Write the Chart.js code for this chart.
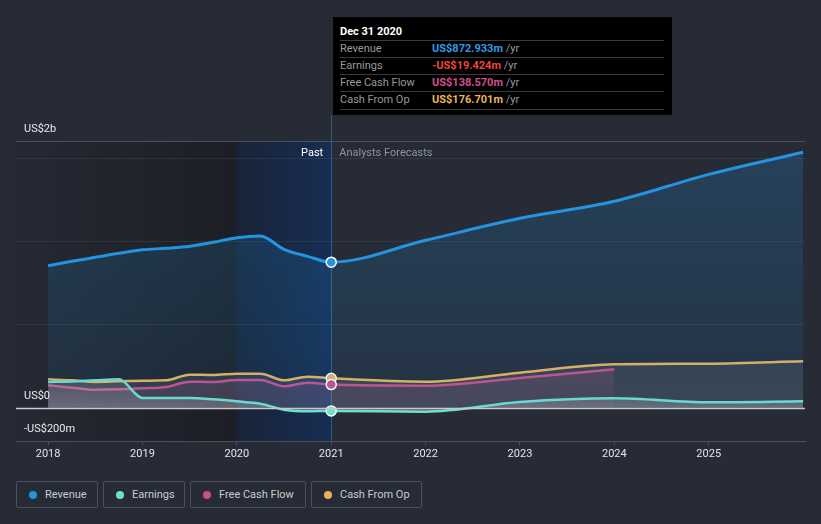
<!DOCTYPE html>
<html>
<head>
<meta charset="utf-8">
<script src="https://cdn.jsdelivr.net/npm/chart.js@4/dist/chart.umd.min.js"></script>
<style>
  body { margin: 0; background: #262b36; font-family: Roboto, "Noto Sans", sans-serif; }
  #wrap { position: relative; width: 821px; height: 524px; overflow: hidden; }
  #chart { position: absolute; left: 0; top: 0; }
  #tip { position: absolute; left: 333px; top: 17px; width: 339px; height: 98px; background: #000; font-size: 11px; }
  #tip .title { position: absolute; left: 7px; top: 8px; color: #fff; font-weight: bold; font-size: 11px; }
  #tip .row { position: absolute; left: 7px; width: 324px; height: 17px; border-top: 1px solid #3a3a3a; line-height: 16px; }
  #tip .row.last { border-bottom: 1px solid #3a3a3a; }
  #tip .lab { position: absolute; left: 0; color: #9a9a9a; }
  #tip .val { position: absolute; left: 92px; font-weight: bold; }
  #tip .val span { color: #9a9a9a; font-weight: normal; }
  #legend { position: absolute; left: 16px; top: 481px; display: flex; gap: 5px; }
  .item { box-sizing: border-box; height: 27px; border: 1px solid #4a505b; border-radius: 2px; display: flex; align-items: center; padding: 0 0 0 12px; color: #c7cbd1; font-size: 11px; }
  .dot { width: 8px; height: 8px; border-radius: 50%; margin-right: 8px; }
</style>
</head>
<body>
<div id="wrap">
  <canvas id="chart" width="821" height="470"></canvas>
  <div id="tip"></div>
  <div id="legend"></div>
</div>
<script>
// time axis as decimal years (Dec 31 2020 sits on 2021)
const years = [2018, 2018.25, 2018.5, 2018.75, 2019, 2019.25, 2019.5, 2019.75, 2020, 2020.25, 2020.5, 2020.75, 2021, 2022, 2023, 2024, 2025, 2026];
const yearTicks = [2018, 2019, 2020, 2021, 2022, 2023, 2024, 2025];

// values in US$ millions
const revenue = [852, 878, 902, 926, 947, 956, 968, 992, 1020, 1030, 950, 908, 872.9, 1004, 1136, 1238, 1400, 1532];
const earnings = [154, 157, 164, 170, 58, 58, 58, 50, 38, 24, -12, -22, -19.4, -24, 34, 56, 32, 38];
const freeCashFlow = [134, 120, 108, 110, 116, 124, 156, 154, 166, 166, 128, 150, 138.6, 132, 178, 230];
const cashFromOp = [170, 164, 154, 158, 162, 164, 198, 196, 204, 204, 164, 186, 176.7, 156, 210, 260, 264, 278];

const seriesNames = ['Revenue', 'Earnings', 'Free Cash Flow', 'Cash From Op'];
const seriesColors = ['#2394df', '#6ee0cf', '#c9508a', '#e8b15c'];
const legendWidths = [82, 82, 116, 111];
const tipColors = ['#2f9be3', '#f0433f', '#d0508f', '#e9b55c'];
const tipValues = ['US$872.933m', '-US$19.424m', 'US$138.570m', 'US$176.701m'];
const tipDate = 'Dec 31 2020';

const yLabels = [{ v: 1600, t: 'US$2b' }, { v: 0, t: 'US$0' }, { v: -200, t: '-US$200m' }];
const gridValues = [500, 1000, 1500];
const pastStart = 2020, pastEnd = 2021;

function pts(vals) { return vals.map((v, i) => ({ x: years[i], y: v })); }

function vGrad(ctx, chart, top, stops) {
  const ys = chart.scales.y;
  const g = ctx.createLinearGradient(0, ys.getPixelForValue(top), 0, ys.getPixelForValue(0));
  g.addColorStop(0, stops[0]);
  g.addColorStop(1, stops[1]);
  return g;
}

const backdrop = {
  id: 'backdrop',
  beforeDatasetsDraw(chart) {
    const { ctx, chartArea: a, scales: { x, y } } = chart;
    const x0 = x.getPixelForValue(pastStart), x1 = x.getPixelForValue(pastEnd);
    ctx.save();
    let g = ctx.createLinearGradient(a.left, 0, x0, 0);
    g.addColorStop(0, 'rgba(24,26,31,0.1)');
    g.addColorStop(1, 'rgba(24,26,31,0.7)');
    ctx.fillStyle = g;
    ctx.fillRect(a.left, a.top, x0 - a.left, a.bottom - a.top);
    g = ctx.createLinearGradient(x0, 0, x1, 0);
    g.addColorStop(0, 'rgba(22,34,56,0.8)');
    g.addColorStop(1, 'rgba(21,46,86,0.9)');
    ctx.fillStyle = g;
    ctx.fillRect(x0, a.top, x1 - x0, a.bottom - a.top);
    ctx.lineWidth = 1;
    gridValues.forEach(v => {
      const py = Math.round(y.getPixelForValue(v)) + 0.5;
      ctx.strokeStyle = 'rgba(255,255,255,0.07)';
      ctx.beginPath(); ctx.moveTo(a.left, py); ctx.lineTo(a.right, py); ctx.stroke();
    });
    const top = Math.round(y.getPixelForValue(1600)) + 0.5;
    ctx.strokeStyle = '#4a505c';
    ctx.beginPath(); ctx.moveTo(a.left, top); ctx.lineTo(a.right, top); ctx.stroke();
    ctx.strokeStyle = '#2c5a93';
    ctx.beginPath(); ctx.moveTo(Math.round(x1) + 0.5, 115); ctx.lineTo(Math.round(x1) + 0.5, a.bottom); ctx.stroke();
    ctx.restore();
  },
  afterDatasetsDraw(chart) {
    const { ctx, chartArea: a, scales: { x, y } } = chart;
    ctx.save();
    const zy = Math.round(y.getPixelForValue(0)) + 0.5;
    ctx.strokeStyle = '#c9c9cc';
    ctx.lineWidth = 1.5;
    ctx.beginPath(); ctx.moveTo(a.left, zy); ctx.lineTo(a.right, zy); ctx.stroke();
    ctx.font = '11px Roboto, sans-serif';
    ctx.textBaseline = 'middle';
    ctx.fillStyle = '#e8eaed';
    yLabels.forEach(l => ctx.fillText(l.t, 24, y.getPixelForValue(l.v) - 11.5));
    const x1 = x.getPixelForValue(pastEnd);
    ctx.textAlign = 'right';
    ctx.fillStyle = '#ffffff';
    ctx.fillText('Past', x1 - 8, 153);
    ctx.textAlign = 'left';
    ctx.fillStyle = '#8e949f';
    ctx.fillText('Analysts Forecasts', x1 + 8, 153);
    ctx.restore();
  }
};

function dataset(i, vals, fillFn) {
  return {
    label: seriesNames[i],
    data: pts(vals),
    borderColor: seriesColors[i],
    borderWidth: i === 0 ? 3 : 2.5,
    cubicInterpolationMode: 'monotone',
    fill: 'origin',
    backgroundColor: fillFn,
    pointRadius: c => (c.raw && c.raw.x === pastEnd ? 5 : 0),
    pointBackgroundColor: seriesColors[i],
    pointBorderColor: '#ffffff',
    pointBorderWidth: 1.5,
    order: i
  };
}

new Chart(document.getElementById('chart'), {
  type: 'line',
  data: {
    datasets: [
      dataset(1, earnings, c => c.chart.chartArea ? vGrad(c.chart.ctx, c.chart, 200, ['rgba(255,255,255,0.04)', 'rgba(255,255,255,0.22)']) : 'transparent'),
      dataset(2, freeCashFlow, c => c.chart.chartArea ? vGrad(c.chart.ctx, c.chart, 250, ['rgba(201,80,138,0.2)', 'rgba(201,80,138,0.08)']) : 'transparent'),
      dataset(3, cashFromOp, c => c.chart.chartArea ? vGrad(c.chart.ctx, c.chart, 280, ['rgba(255,255,255,0.08)', 'rgba(255,255,255,0.1)']) : 'transparent'),
      dataset(0, revenue, c => c.chart.chartArea ? vGrad(c.chart.ctx, c.chart, 1600, ['rgba(35,148,223,0.22)', 'rgba(35,148,223,0.08)']) : 'transparent')
    ]
  },
  options: {
    responsive: false,
    animation: false,
    layout: { padding: { left: 16, right: 16, top: 141, bottom: 0 } },
    plugins: { legend: { display: false }, tooltip: { enabled: false } },
    scales: {
      x: {
        type: 'linear',
        min: 2017.66,
        max: 2026.02,
        afterBuildTicks: s => { s.ticks = yearTicks.map(v => ({ value: v })); },
        afterFit: s => { s.height = 29; },
        border: { display: true, color: '#4b505b' },
        grid: { drawOnChartArea: false, drawTicks: true, tickLength: 4, color: '#4b505b' },
        ticks: { color: '#e3e5e8', font: { family: 'Roboto', size: 11 }, padding: 3, maxRotation: 0, callback: v => String(v) }
      },
      y: { display: false, min: -200, max: 1600 }
    }
  },
  plugins: [backdrop]
});

// tooltip box
const tip = document.getElementById('tip');
let html = '<div class="title">' + tipDate + '</div>';
seriesNames.forEach((n, i) => {
  html += '<div class="row' + (i === 3 ? ' last' : '') + '" style="top:' + (23 + i * 17) + 'px"><span class="lab">' + n +
    '</span><span class="val" style="color:' + tipColors[i] + '">' + tipValues[i] + ' <span>/yr</span></span></div>';
});
tip.innerHTML = html;

// legend
const legend = document.getElementById('legend');
seriesNames.forEach((n, i) => {
  const d = document.createElement('div');
  d.className = 'item';
  d.style.width = legendWidths[i] + 'px';
  d.innerHTML = '<span class="dot" style="background:' + seriesColors[i] + '"></span>' + n;
  legend.appendChild(d);
});
</script>
</body>
</html>
